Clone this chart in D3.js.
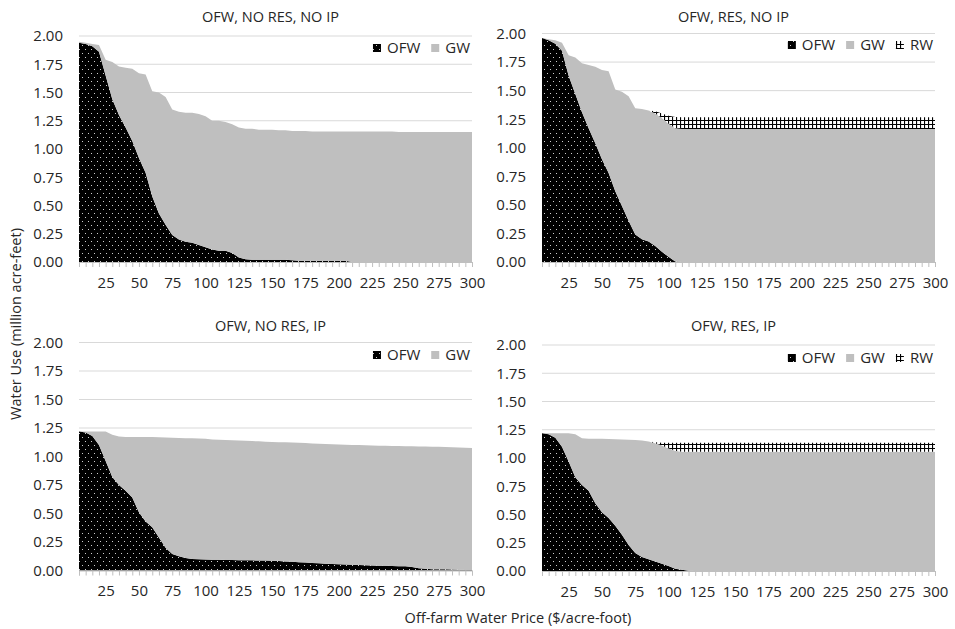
<!DOCTYPE html>
<html>
<head>
<meta charset="utf-8">
<script src="https://cdn.jsdelivr.net/npm/d3@7"></script>
<style>
  body { margin: 0; background: #fff; }
  svg text { font-family: "Open Sans", "Noto Sans", sans-serif; fill: #262626; }
</style>
</head>
<body>
<div id="chart"></div>
<script>
// Off-farm water price ($/acre-foot), one category every 5
const prices = d3.range(5, 301, 5);
const xTickLabels = [25, 50, 75, 100, 125, 150, 175, 200, 225, 250, 275, 300];
const yTicks = [0, 0.25, 0.5, 0.75, 1, 1.25, 1.5, 1.75, 2];

// OFW, NO RES, NO IP
const ofwNoResNoIp = [1.94,1.93,1.91,1.86,1.65,1.44,1.30,1.19,1.07,0.92,
  0.79,0.58,0.43,0.33,0.24,0.20,0.18,0.17,0.15,0.13,
  0.11,0.10,0.10,0.08,0.04,0.025,0.02,0.02,0.02,0.02,
  0.02,0.02,0.015,0.01,0.01,0.01,0.01,0.01,0.01,0.01,
  0.01,0,0,0,0,0,0,0,0,0,
  0,0,0,0,0,0,0,0,0,0];
const gwNoResNoIp = [0.01,0.01,0.02,0.06,0.14,0.33,0.43,0.53,0.64,0.75,
  0.87,0.93,1.07,1.13,1.11,1.13,1.14,1.15,1.16,1.16,
  1.14,1.15,1.14,1.14,1.15,1.155,1.16,1.15,1.15,1.15,
  1.145,1.145,1.145,1.15,1.15,1.145,1.145,1.145,1.145,1.145,
  1.145,1.155,1.155,1.155,1.155,1.155,1.155,1.155,1.15,1.15,
  1.15,1.15,1.15,1.15,1.15,1.15,1.15,1.15,1.15,1.15];

// OFW, RES, NO IP
const ofwResNoIp = [1.96,1.94,1.91,1.85,1.63,1.47,1.31,1.17,1.04,0.90,
  0.78,0.62,0.49,0.36,0.24,0.20,0.18,0.14,0.09,0.045,
  0.005,0,0,0,0,0,0,0,0,0,
  0,0,0,0,0,0,0,0,0,0,
  0,0,0,0,0,0,0,0,0,0,
  0,0,0,0,0,0,0,0,0,0];
const gwResNoIp = [0,0.01,0.03,0.07,0.18,0.32,0.43,0.555,0.67,0.78,
  0.89,0.89,1.00,1.09,1.105,1.14,1.145,1.16,1.17,1.165,
  1.165,1.165,1.165,1.165,1.165,1.165,1.165,1.165,1.165,1.165,
  1.165,1.165,1.165,1.165,1.165,1.165,1.165,1.165,1.165,1.165,
  1.165,1.165,1.165,1.165,1.165,1.165,1.165,1.165,1.165,1.165,
  1.165,1.165,1.165,1.165,1.165,1.165,1.165,1.165,1.165,1.165];
const rwResNoIp = [0,0,0,0,0,0,0,0,0,0,
  0,0,0,0,0,0,0,0.02,0.04,0.07,
  0.10,0.103,0.103,0.103,0.103,0.103,0.103,0.103,0.103,0.103,
  0.103,0.103,0.103,0.103,0.103,0.103,0.103,0.103,0.103,0.103,
  0.103,0.103,0.103,0.103,0.103,0.103,0.103,0.103,0.103,0.103,
  0.103,0.103,0.103,0.103,0.103,0.103,0.103,0.103,0.103,0.103];

// OFW, NO RES, IP
const ofwNoResIp = [1.22,1.21,1.18,1.10,0.96,0.82,0.75,0.70,0.64,0.51,
  0.43,0.38,0.29,0.20,0.145,0.125,0.11,0.10,0.098,0.096,
  0.095,0.094,0.093,0.092,0.091,0.09,0.089,0.088,0.088,0.085,
  0.083,0.08,0.077,0.073,0.07,0.066,0.063,0.06,0.057,0.055,
  0.052,0.05,0.048,0.045,0.044,0.042,0.041,0.04,0.038,0.037,
  0.03,0.02,0.015,0.012,0.011,0.01,0.008,0.006,0.005,0.005];
const gwNoResIp = [0,0.01,0.04,0.12,0.26,0.37,0.425,0.47,0.53,0.66,
  0.74,0.79,0.878,0.966,1.02,1.038,1.05,1.06,1.06,1.059,
  1.055,1.053,1.052,1.051,1.049,1.048,1.046,1.045,1.042,1.043,
  1.043,1.044,1.045,1.047,1.048,1.049,1.049,1.05,1.05,1.05,
  1.051,1.05,1.052,1.053,1.053,1.053,1.053,1.053,1.054,1.053,
  1.059,1.068,1.072,1.074,1.074,1.073,1.073,1.073,1.072,1.07];

// OFW, RES, IP
const ofwResIp = [1.22,1.21,1.18,1.10,0.97,0.83,0.76,0.71,0.60,0.52,
  0.47,0.40,0.32,0.23,0.16,0.125,0.105,0.085,0.065,0.045,
  0.02,0.01,0.002,0,0,0,0,0,0,0,
  0,0,0,0,0,0,0,0,0,0,
  0,0,0,0,0,0,0,0,0,0,
  0,0,0,0,0,0,0,0,0,0];
const gwResIp = [0,0.01,0.04,0.12,0.25,0.38,0.415,0.46,0.57,0.65,
  0.698,0.766,0.844,0.932,1.00,1.03,1.04,1.045,1.045,1.04,
  1.045,1.045,1.053,1.055,1.055,1.055,1.055,1.055,1.055,1.055,
  1.055,1.055,1.055,1.055,1.055,1.055,1.055,1.055,1.055,1.055,
  1.055,1.055,1.055,1.055,1.055,1.055,1.055,1.055,1.055,1.055,
  1.055,1.055,1.055,1.055,1.055,1.055,1.055,1.055,1.055,1.055];
const rwResIp = [0,0,0,0,0,0,0,0,0,0,
  0,0,0,0,0,0,0,0.01,0.025,0.05,
  0.07,0.08,0.08,0.08,0.08,0.08,0.08,0.08,0.08,0.08,
  0.08,0.08,0.08,0.08,0.08,0.08,0.08,0.08,0.08,0.08,
  0.08,0.08,0.08,0.08,0.08,0.08,0.08,0.08,0.08,0.08,
  0.08,0.08,0.08,0.08,0.08,0.08,0.08,0.08,0.08,0.08];

const panels = [
  {title: "OFW, NO RES, NO IP", series: {OFW: ofwNoResNoIp, GW: gwNoResNoIp},
   box: {l: 79, r: 472, t: 36, b: 262}, titleY: 22, legendY: 48},
  {title: "OFW, RES, NO IP", series: {OFW: ofwResNoIp, GW: gwResNoIp, RW: rwResNoIp},
   box: {l: 542, r: 935, t: 33.5, b: 262}, titleY: 22, legendY: 45},
  {title: "OFW, NO RES, IP", series: {OFW: ofwNoResIp, GW: gwNoResIp},
   box: {l: 79, r: 472, t: 342.5, b: 570.5}, titleY: 331, legendY: 355},
  {title: "OFW, RES, IP", series: {OFW: ofwResIp, GW: gwResIp, RW: rwResIp},
   box: {l: 542, r: 935, t: 345, b: 571}, titleY: 331, legendY: 358}
];

const W = 955, H = 629;
const svg = d3.select("#chart").append("svg").attr("width", W).attr("height", H);

const defs = svg.append("defs");
const dots = defs.append("pattern").attr("id", "pOFW").attr("patternUnits", "userSpaceOnUse")
  .attr("width", 6).attr("height", 8);
dots.append("rect").attr("width", 6).attr("height", 8).attr("fill", "#000");
dots.append("rect").attr("x", 1).attr("y", 1).attr("width", 1).attr("height", 1).attr("fill", "#cfcfcf");
dots.append("rect").attr("x", 4).attr("y", 5).attr("width", 1).attr("height", 1).attr("fill", "#cfcfcf");
const grid = defs.append("pattern").attr("id", "pRW").attr("patternUnits", "userSpaceOnUse")
  .attr("width", 4).attr("height", 4);
grid.append("rect").attr("width", 4).attr("height", 4).attr("fill", "#fff");
grid.append("path").attr("d", "M0,0.5H4M0.5,0V4").attr("stroke", "#000").attr("stroke-width", 1.2);

const fills = {OFW: "url(#pOFW)", GW: "#bfbfbf", RW: "url(#pRW)"};

panels.forEach(p => {
  const keys = Object.keys(p.series);
  const rows = prices.map((price, i) => {
    const row = {price};
    keys.forEach(k => row[k] = p.series[k][i]);
    return row;
  });
  const x = d3.scaleLinear().domain([5, 300]).range([p.box.l, p.box.r]);
  const y = d3.scaleLinear().domain([0, 2]).range([p.box.b, p.box.t]);
  const g = svg.append("g");

  // gridlines
  g.selectAll("line.grid").data(yTicks.slice(1)).join("line")
    .attr("class", "grid").attr("x1", p.box.l).attr("x2", p.box.r)
    .attr("y1", d => y(d)).attr("y2", d => y(d))
    .attr("stroke", "#d9d9d9").attr("stroke-width", 1);

  const stacked = d3.stack().keys(keys)(rows);
  const area = d3.area().x(d => x(d.data.price)).y0(d => y(d[0])).y1(d => y(d[1]));
  g.selectAll("path.layer").data(stacked).join("path")
    .attr("class", "layer").attr("d", area).attr("fill", d => fills[d.key]);

  // x axis
  g.append("g").attr("transform", `translate(0,${p.box.b})`)
    .call(d3.axisBottom(x).tickValues(prices).tickSize(5).tickPadding(10)
      .tickFormat(d => xTickLabels.includes(d) ? d : ""))
    .call(a => a.selectAll("line, path").attr("stroke", "#bfbfbf"))
    .call(a => a.selectAll("text").style("font-size", "15px").attr("fill", "#262626"));

  // y axis
  g.append("g").attr("transform", `translate(${p.box.l},0)`)
    .call(d3.axisLeft(y).tickValues(yTicks).tickSize(0).tickPadding(16).tickFormat(d3.format(".2f")))
    .call(a => a.select(".domain").remove())
    .call(a => a.selectAll("text").style("font-size", "15px").attr("fill", "#262626"));

  g.append("text").attr("x", (p.box.l + p.box.r) / 2 - 5).attr("y", p.titleY)
    .attr("text-anchor", "middle").style("font-size", "14.5px").text(p.title);

  // legend, right aligned
  const lg = g.append("g");
  let cx = p.box.r - 2;
  keys.slice().reverse().forEach(k => {
    const t = lg.append("text").attr("y", p.legendY + 5).style("font-size", "15px").text(k);
    const w = t.node().getComputedTextLength();
    cx -= w;
    t.attr("x", cx);
    cx -= 6;
    lg.append("rect").attr("x", cx - 8).attr("y", p.legendY - 4).attr("width", 8).attr("height", 8)
      .attr("fill", fills[k]);
    cx -= 8 + 11;
  });
});

svg.append("text").attr("x", 518).attr("y", 623).attr("text-anchor", "middle")
  .style("font-size", "14.5px").text("Off-farm Water Price ($/acre-foot)");
svg.append("text").attr("transform", "translate(21,324) rotate(-90)").attr("text-anchor", "middle")
  .style("font-size", "14.5px").text("Water Use (million acre-feet)");
</script>
</body>
</html>
